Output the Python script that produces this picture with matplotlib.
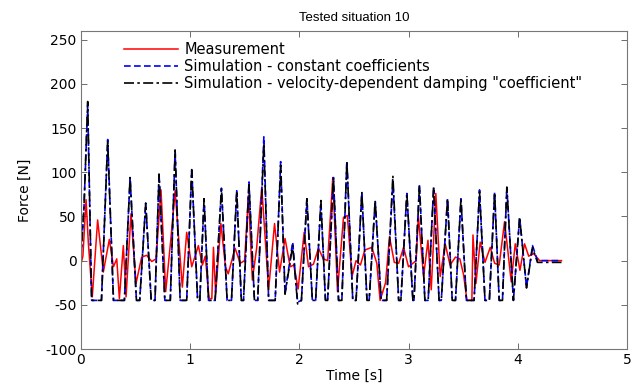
import matplotlib
matplotlib.use("Agg")
import matplotlib.pyplot as plt

plt.rcParams['font.family'] = ['DejaVu Sans']
plt.rcParams['axes.unicode_minus'] = False

meas_t = [0.00, 0.02, 0.049, 0.07, 0.106, 0.155, 0.207, 0.262, 0.30, 0.33,
          0.354, 0.39, 0.415, 0.46, 0.506, 0.558, 0.604, 0.65, 0.69, 0.735,
          0.778, 0.824, 0.864, 0.93, 0.97, 1.016, 1.077, 1.114, 1.14, 1.175,
          1.20, 1.215, 1.235, 1.283, 1.325, 1.35, 1.413, 1.46, 1.50, 1.535,
          1.571, 1.61, 1.657, 1.72, 1.774, 1.82, 1.87, 1.917, 1.95, 1.99,
          2.045, 2.085, 2.13, 2.176, 2.22, 2.26, 2.307, 2.35, 2.405, 2.44,
          2.483, 2.52, 2.56, 2.60, 2.665, 2.71, 2.74, 2.79, 2.826, 2.87,
          2.91, 2.955, 3.0, 3.07, 3.09, 3.138, 3.178, 3.208, 3.25, 3.29,
          3.336, 3.38, 3.43, 3.47, 3.504, 3.535, 3.58, 3.59, 3.617, 3.656,
          3.70, 3.748, 3.788, 3.83, 3.879, 3.91, 3.94, 3.977, 4.02, 4.062,
          4.10, 4.145, 4.20, 4.40]
meas_f = [-5, 5, 69, 20, -41, 46, -13, 24, -7, 2,
          -43, 17, -41, 53, -26, 4, 6, -1, 2, 80,
          -35, 23, 79, -30, 32, -7, 17, -5, 5, -43,
          -43, 15, -38, 42, -7, -15, 14, -3, 0, 74,
          -22, 14, 83, -33, 42, -13, 25, -7, -5, -32,
          32, -7, -4, 14, 2, 0, 94, -35, 49, 51,
          -18, 0, -5, 12, 15, -3, -45, -25, 27, -2,
          -3, 15, -7, 0, 51, -18, 23, -33, 76, -18,
          19, -5, 4, 2, -16, -45, -45, 29, -26, 21,
          -2, 15, -3, -5, 44, 10, -24, 19, -11, 19,
          5, 8, 0, 0]

# simulation with constant coefficients
const_t = [0.00, 0.03, 0.064, 0.10, 0.19, 0.247, 0.30, 0.40, 0.452, 0.51,
           0.54, 0.595, 0.645, 0.68, 0.717, 0.77, 0.82, 0.864, 0.91, 0.97,
           1.016, 1.07, 1.09, 1.129, 1.17, 1.23, 1.288, 1.34, 1.38, 1.428,
           1.47, 1.49, 1.54, 1.59, 1.62, 1.676, 1.72, 1.78, 1.83, 1.87,
           1.94, 1.985, 2.02, 2.07, 2.12, 2.15, 2.198, 2.24, 2.26, 2.313,
           2.36, 2.39, 2.436, 2.49, 2.52, 2.573, 2.62, 2.64, 2.695, 2.75,
           2.80, 2.857, 2.91, 2.93, 2.985, 3.04, 3.05, 3.10, 3.15, 3.18,
           3.23, 3.28, 3.30, 3.357, 3.40, 3.43, 3.48, 3.53, 3.60, 3.65,
           3.70, 3.74, 3.788, 3.83, 3.86, 3.90, 3.96, 4.017, 4.08, 4.135,
           4.18, 4.40]
const_f = [0, 60, 176, -45, -45, 137, -45, -45, 94, -45,
           -45, 65, -45, -45, 98, -45, -45, 125, -45, -45,
           103, -45, -45, 70, -45, -45, 82, -45, -45, 79,
           -45, -45, 89, -45, -45, 140, -45, -45, 112, -37,
           21, -47, -45, 70, -45, -45, 66, -45, -45, 94,
           -45, -45, 113, -45, -45, 77, -45, -45, 68, -45,
           -45, 90, -45, -45, 76, -45, -45, 86, -45, -45,
           83, -45, -45, 70, -45, -45, 70, -45, -45, 80,
           -45, -45, 77, -45, -45, 83, -45, 49, -30, 17,
           0, 0]

# simulation with velocity-dependent damping
vel_t = const_t
vel_f = [0, 60, 180, -45, -45, 135, -45, -45, 94, -45,
         -45, 65, -45, -45, 98, -45, -45, 125, -45, -45,
         103, -45, -45, 70, -45, -45, 81, -45, -45, 79,
         -45, -45, 86, -45, -45, 132, -45, -45, 108, -38,
         17, -49, -45, 70, -45, -45, 68, -45, -45, 94,
         -45, -45, 112, -45, -45, 77, -45, -45, 68, -45,
         -45, 96, -45, -45, 76, -45, -45, 84, -45, -45,
         83, -45, -45, 70, -45, -45, 70, -45, -45, 78,
         -45, -45, 77, -45, -45, 83, -45, 49, -31, 15,
         -2, -2]

fig = plt.figure(figsize=(6.42, 3.85), dpi=100)
ax = fig.add_axes([0.1257, 0.0935, 0.851, 0.8265])

ax.plot(meas_t, meas_f, color='#ff0000', lw=1.1, label='Measurement')
ax.plot(const_t, const_f, color='#0000ff', lw=1.2, dashes=(4, 2),
        label='Simulation - constant coefficients')
ax.plot(vel_t, vel_f, color='black', lw=1.2, dashes=(6, 2, 1.5, 2),
        label='Simulation - velocity-dependent damping "coefficient"')

ax.set_xlim(0, 5)
ax.set_ylim(-100, 260)
ax.set_xticks([0, 1, 2, 3, 4, 5])
ax.set_yticks([-100, -50, 0, 50, 100, 150, 200, 250])
ax.tick_params(direction='in', top=True, right=True, length=4,
               labelsize=10, color='#555555', width=0.6, pad=3)
for s in ax.spines.values():
    s.set_color('#777777')
    s.set_linewidth(0.8)

ax.set_title('Tested situation 10', fontsize=9.5, pad=7,
             family=['Liberation Sans', 'DejaVu Sans'])
ax.set_xlabel('Time [s]', fontsize=10, labelpad=1)
ax.set_ylabel('Force [N]', fontsize=10, labelpad=10)

ax.legend(loc='upper left', bbox_to_anchor=(0.06, 1.0), frameon=False,
          fontsize=10.5, handlelength=3.7, handletextpad=0.4,
          labelspacing=0.15, borderaxespad=0.35)

fig.savefig('out.png', dpi=100)
